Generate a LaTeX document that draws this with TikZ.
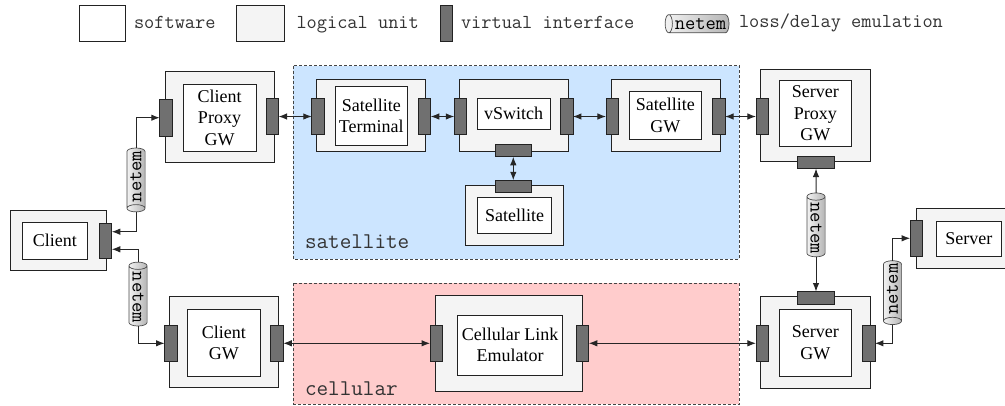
\documentclass[tikz,border=0pt]{standalone}
\usepackage{fontspec}
\setmainfont{Liberation Serif}
\usetikzlibrary{shapes.geometric,arrows.meta}
\definecolor{SatBlue}{HTML}{CCE5FF}
\definecolor{CellPink}{HTML}{FFCCCC}
\definecolor{UnitGray}{HTML}{F4F4F4}
\definecolor{IfaceGray}{HTML}{707070}
\definecolor{EdgeGray}{HTML}{222222}
\definecolor{ZoneGray}{HTML}{444444}

\begin{document}
\begin{tikzpicture}[x=1pt,y=-1pt,
  every node/.style={inner sep=0pt, outer sep=0pt},
  unit/.style 2 args={draw=EdgeGray, line width=0.9pt, fill=UnitGray, minimum width=#1, minimum height=#2},
  soft/.style 2 args={draw=EdgeGray, line width=0.9pt, fill=white, minimum width=#1, minimum height=#2, align=center, font=\fontsize{18}{21.6}\selectfont},
  vif/.style={draw=EdgeGray, line width=0.9pt, fill=IfaceGray, minimum width=12.5pt, minimum height=36.5pt},
  hif/.style={vif, minimum width=36.5pt, minimum height=12.5pt},
  netem/.style={shape=cylinder, shape border rotate=180, aspect=0.4, draw=black!70, line width=0.7pt, left color=gray!10, right color=gray!58, inner xsep=2pt, inner ysep=3.5pt, font=\ttfamily\fontsize{20}{20}\selectfont},
  wire/.style={>={Latex[length=8.5pt,width=6.5pt]}, line width=1pt, draw=black!85},
  link/.style={wire, <->},
  zone/.style={draw=ZoneGray, line width=0.9pt, dash pattern=on 3pt off 2pt},
  zonelabel/.style={anchor=base west, font=\ttfamily\fontsize{22.5}{22.5}\selectfont, text=black!80},
  legendtext/.style={anchor=base west, font=\ttfamily\fontsize{19.8}{19.8}\selectfont, text=black!80}]
  \useasboundingbox (0,0) rectangle (1005,405);

  % emulation zones
  \draw[zone, fill=SatBlue] (293.3,65.7) rectangle (739.3,259);
  \node[zonelabel] at (305,248.3) {satellite};
  \draw[zone, fill=CellPink] (293.3,283.3) rectangle (739.3,404);
  \node[zonelabel] at (305,395.7) {cellular};

  % legend
  \node[soft={46.7pt}{36pt}] (lg-sw) at (102.3,23.7) {};
  \node[legendtext] at (134,28.5) {software};
  \node[unit={47.3pt}{36pt}] (lg-lu) at (260.3,23.7) {};
  \node[legendtext] at (296.5,28.5) {logical unit};
  \node[vif, minimum height=36pt] (lg-if) at (446.3,23.7) {};
  \node[legendtext] at (461,28.5) {virtual interface};
  \node[netem] (lg-ne) at (700.5,23.7) {netem};
  \node[legendtext] at (739,27.5) {loss/delay emulation};

  % client
  \node[unit={96pt}{60pt}] (cl) at (58.7,240.7) {};
  \node[soft={65.7pt}{37pt}] (cl-sw) at (54.8,240.5) {Client};
  \node[vif, minimum height=35pt] (cl-r) at (105.5,240.5) {};

  % client proxy gw
  \node[unit={109pt}{91pt}] (cpgw) at (219.5,116.5) {};
  \node[soft={73pt}{67pt}] (cpgw-sw) at (219.5,117.5) {Client\\Proxy\\GW};
  \node[vif] (cpgw-l) at (166,117.7) {};
  \node[vif] (cpgw-r) at (272.3,116.5) {};

  % client gw
  \node[unit={109pt}{91pt}] (cgw) at (223.8,342.2) {};
  \node[soft={72.3pt}{66.7pt}] (cgw-sw) at (223.8,342.7) {Client\\GW};
  \node[vif] (cgw-l) at (170.8,343.3) {};
  \node[vif] (cgw-r) at (277,343.3) {};

  % satellite terminal
  \node[unit={109pt}{72pt}] (term) at (371.2,115) {};
  \node[soft={72.7pt}{59.7pt}] (term-sw) at (371.3,115.8) {Satellite\\Terminal};
  \node[vif] (term-l) at (318,116.5) {};
  \node[vif] (term-r) at (424.5,116.5) {};

  % vswitch
  \node[unit={109pt}{72.7pt}] (vsw) at (513.8,115.3) {};
  \node[soft={72.7pt}{31pt}] (vsw-sw) at (513.7,113.8) {vSwitch};
  \node[vif] (vsw-l) at (460.5,116.5) {};
  \node[vif] (vsw-r) at (566.7,116.5) {};
  \node[hif] (vsw-b) at (513.3,150.5) {};

  % satellite
  \node[unit={97.6pt}{60.4pt}] (sat) at (514.5,215.5) {};
  \node[soft={74.4pt}{35.6pt}] (sat-sw) at (514.5,215.5) {Satellite};
  \node[hif] (sat-t) at (513.3,186.5) {};

  % satellite gw
  \node[unit={109pt}{72pt}] (satgw) at (665.5,115) {};
  \node[soft={72.7pt}{47.3pt}] (satgw-sw) at (665.3,115.3) {Satellite\\GW};
  \node[vif] (satgw-l) at (612.2,116.5) {};
  \node[vif] (satgw-r) at (718.8,116.5) {};

  % server proxy gw
  \node[unit={109.3pt}{92pt}] (spgw) at (815.3,115) {};
  \node[soft={72.7pt}{66.7pt}] (spgw-sw) at (815.3,113.3) {Server\\Proxy\\GW};
  \node[vif] (spgw-l) at (762.2,116.5) {};
  \node[hif] (spgw-b) at (816,162.3) {};

  % server
  \node[unit={96pt}{60pt}] (srv) at (964.7,238.3) {};
  \node[soft={65.7pt}{35pt}] (srv-sw) at (968.8,238.5) {Server};
  \node[vif] (srv-l) at (916.4,238.3) {};

  % server gw
  \node[unit={109.3pt}{91.6pt}] (sgw) at (815.3,342.5) {};
  \node[soft={72.7pt}{66.7pt}] (sgw-sw) at (815.3,342.7) {Server\\GW};
  \node[hif] (sgw-t) at (816,297.8) {};
  \node[vif] (sgw-l) at (762.2,343.3) {};
  \node[vif] (sgw-r) at (868.7,343.3) {};

  % cellular link emulator
  \node[unit={147.3pt}{96.7pt}] (cle) at (508.7,343.3) {};
  \node[soft={105.3pt}{60pt}] (cle-sw) at (510,345) {Cellular Link\\Emulator};
  \node[vif] (cle-l) at (436.3,343.3) {};
  \node[vif] (cle-r) at (582.5,343.3) {};

  % netem links
  \node[netem, rotate=90] (n1) at (136,176.5) {netem};
  \node[netem, rotate=-90] (n2) at (138,297.5) {netem};
  \node[netem, rotate=-90] (n3) at (816,228.3) {netem};
  \node[netem, rotate=90] (n4) at (892.5,289.2) {netem};

  % connectors
  \draw[wire, <-] ([yshift=8.8pt]cl-r.east) -| (n1);
  \draw[wire, ->] (n1) |- (cpgw-l);
  \draw[wire, <-] ([yshift=-8.8pt]cl-r.east) -| (n2);
  \draw[wire, ->] (n2) |- (cgw-l);
  \draw[link] (cpgw-r) -- (term-l);
  \draw[link] (term-r) -- (vsw-l);
  \draw[link] (vsw-r) -- (satgw-l);
  \draw[link] (vsw-b) -- (sat-t);
  \draw[link] (satgw-r) -- (spgw-l);
  \draw[wire, <-] (spgw-b) -- (n3);
  \draw[wire, ->] (n3) -- (sgw-t);
  \draw[wire, <-] (sgw-r) -| (n4);
  \draw[wire, ->] (n4) |- (srv-l);
  \draw[link] (cgw-r) -- (cle-l);
  \draw[link] (cle-r) -- (sgw-l);
\end{tikzpicture}
\end{document}
